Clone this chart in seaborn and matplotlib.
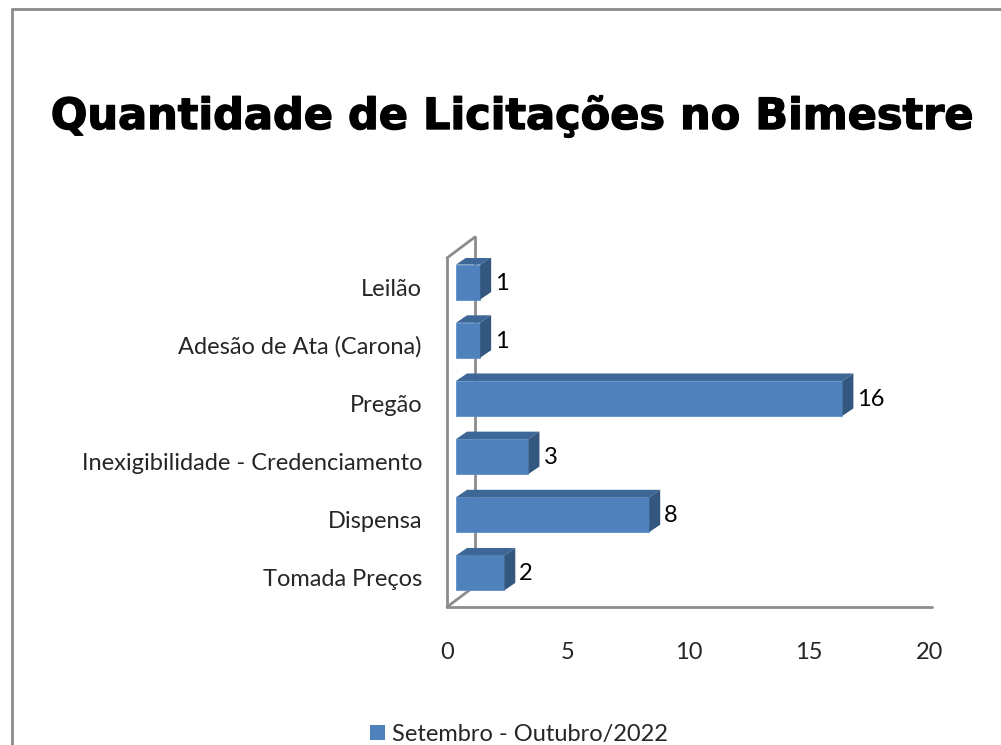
import matplotlib
matplotlib.use("Agg")
import matplotlib.pyplot as plt
import matplotlib.patheffects as pe
from matplotlib.patches import Polygon, Patch
from matplotlib.lines import Line2D
import seaborn as sns

categories = ['Leilão', 'Adesão de Ata (Carona)', 'Pregão',
              'Inexigibilidade - Credenciamento', 'Dispensa', 'Tomada Preços']
values = [1, 1, 16, 3, 8, 2]
series_name = 'Setembro - Outubro/2022'
title = 'Quantidade de Licitações no Bimestre'
xticks = [0, 5, 10, 15, 20]

FRONT = '#4F81BD'
TOP = '#3D6796'
SIDE = '#33577F'
FRAME = '#8C8C8C'

sns.set_theme(style='white')
plt.rcParams['font.family'] = ['Lato', 'DejaVu Sans']

fig = plt.figure(figsize=(10.01, 7.45), dpi=100)
ax = fig.add_axes([447 / 1001, 138 / 745, 483 / 1001, 349 / 745])

sns.barplot(x=values, y=categories, orient='h', color=FRONT, width=0.6,
            saturation=1, ax=ax, edgecolor='#5E8FCB', linewidth=0.6)
ax.set_xlim(0, 20)
ax.set_ylim(5.5, -0.5)

# pixel -> data unit conversion for the fake 3D look
xu = 20 / 483
yu = 6 / 349
bdx, bdy = 9 * xu, -5 * yu          # bars sit halfway into the depth
ddx, ddy = 11 * xu, -7.5 * yu       # bar depth
fdx, fdy = 28 * xu, -21 * yu        # frame depth

for p, v in zip(ax.patches, values):
    x0 = p.get_x() + bdx
    y0 = p.get_y() + bdy
    w, h = p.get_width(), p.get_height()
    p.set_x(x0)
    p.set_y(y0)
    x1 = x0 + w
    top = y0  # smaller y is higher (inverted axis)
    ax.add_patch(Polygon([(x0, top), (x1, top), (x1 + ddx, top + ddy), (x0 + ddx, top + ddy)],
                         closed=True, facecolor=TOP, edgecolor='none', zorder=3))
    ax.add_patch(Polygon([(x1, top), (x1 + ddx, top + ddy), (x1 + ddx, top + h + ddy), (x1, top + h)],
                         closed=True, facecolor=SIDE, edgecolor='none', zorder=3))
    ax.text(x1 + ddx + 4 * xu, y0 + h / 2 + 1 * yu, str(v), va='center', ha='left',
            fontsize=17, color='black')

for p in ax.patches:
    p.set_zorder(3)

# 3D frame: back wall, front spine, floor edge
lw = 2.0
ax.plot([fdx, fdx], [-0.5 + fdy, 5.5 + fdy], color=FRAME, lw=lw, clip_on=False, zorder=1)
ax.plot([0, fdx], [-0.5, -0.5 + fdy], color=FRAME, lw=lw, clip_on=False, zorder=1)
ax.plot([0, fdx], [5.5, 5.5 + fdy], color=FRAME, lw=lw, clip_on=False, zorder=1)
ax.plot([0, 0], [-0.5, 5.5], color=FRAME, lw=lw, clip_on=False, zorder=4)
ax.plot([0, 20.1], [5.5, 5.5], color=FRAME, lw=lw, clip_on=False, zorder=4)

for s in ax.spines.values():
    s.set_visible(False)
ax.set_xticks(xticks)
ax.set_xticklabels([str(t) for t in xticks])
ax.tick_params(axis='x', length=0, pad=25, labelsize=17)
ax.tick_params(axis='y', length=0, pad=18, labelsize=17)
for lab in ax.get_yticklabels():
    lab.set_y(lab.get_position()[1])
    lab.set_va('center_baseline')
ax.set_xlabel('')
ax.set_ylabel('')
ax.grid(False)

fig.text(512 / 1001, 1 - 129 / 745, title, ha='center', va='baseline',
         family='DejaVu Sans', fontweight='bold', fontsize=31, color='black',
         path_effects=[pe.withStroke(linewidth=1.0, foreground='black')])

handles = [Patch(facecolor=FRONT, edgecolor='none', label=series_name)]
fig.legend(handles=handles, loc='center', bbox_to_anchor=(519 / 1001, 1 - 734 / 745),
           frameon=False, fontsize=17, handlelength=0.6, handleheight=0.6,
           handletextpad=0.3, borderpad=0)

# chart border (only top and left visible in the crop)
fig.add_artist(Line2D([12 / 1001, 12 / 1001], [0, 1 - 9 / 745], color=FRAME, lw=2,
                      transform=fig.transFigure))
fig.add_artist(Line2D([12 / 1001, 1], [1 - 9 / 745, 1 - 9 / 745], color=FRAME, lw=2,
                      transform=fig.transFigure))

fig.savefig('out.png', dpi=100, facecolor='white')
